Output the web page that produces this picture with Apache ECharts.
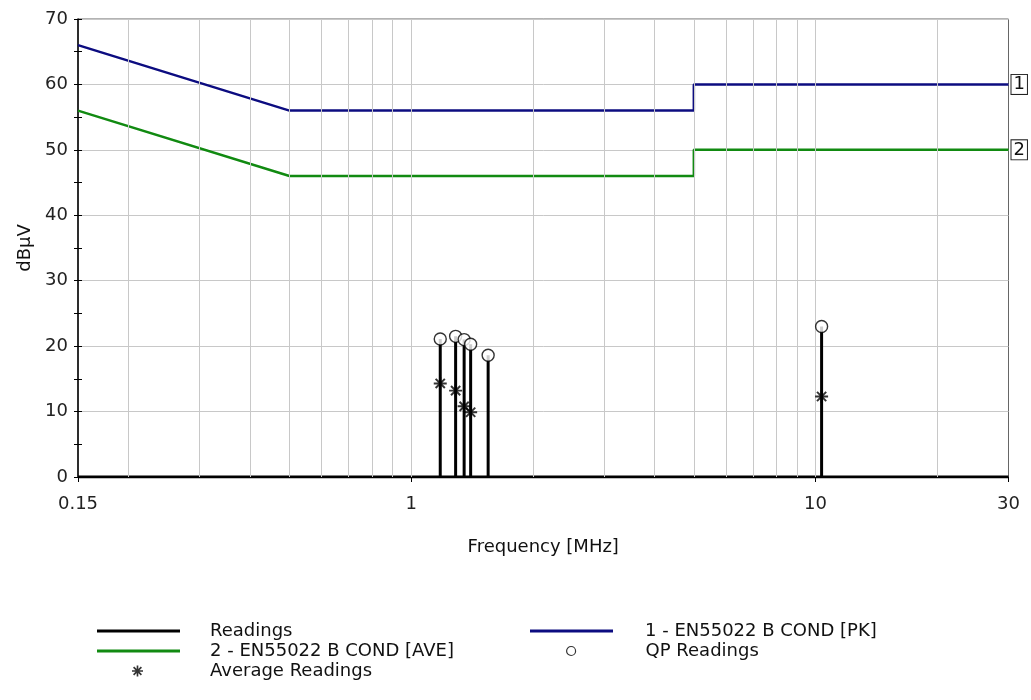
<!DOCTYPE html>
<html>
<head>
<meta charset="utf-8">
<script src="https://cdn.jsdelivr.net/npm/echarts@6/dist/echarts.min.js"></script>
<style>
html,body{margin:0;padding:0;background:#fff;}
#chart{width:1031px;height:700px;}
</style>
</head>
<body>
<div id="chart"></div>
<script>
// ---- data ----
const freqTickLabels = [0.15, 1, 10, 30];
const gridFreqs = [0.2,0.3,0.4,0.5,0.6,0.7,0.8,0.9,1,2,3,4,5,6,7,8,9,10,20];
const limitFreq = [0.15, 0.5, 5, 5, 30];
const pkLimit  = [66, 56, 56, 60, 60];
const aveLimit = [56, 46, 46, 50, 50];
const readingFreq = [1.18, 1.288, 1.352, 1.403, 1.55, 10.35];
const qpValues    = [21.1, 21.5, 21.0, 20.3, 18.6, 23.0];
const avgValues   = [14.3, 13.2, 10.8, 9.9, null, 12.3];
const names = {
  readings: 'Readings',
  pk: '1 - EN55022 B COND [PK]',
  ave: '2 - EN55022 B COND [AVE]',
  qp: 'QP Readings',
  avg: 'Average Readings'
};

// ---- build ----
const FONT = 'DejaVu Sans';
const readingsData = [[0.15, 0]];
readingFreq.forEach((f, i) => { readingsData.push([f, 0], [f, qpValues[i]], [f, 0]); });
readingsData.push([30, 0]);
const pkData = limitFreq.map((f, i) => [f, pkLimit[i]]);
const aveData = limitFreq.map((f, i) => [f, aveLimit[i]]);
const qpData = readingFreq.map((f, i) => [f, qpValues[i]]);
const avgData = readingFreq.map((f, i) => [f, avgValues[i]]).filter(d => d[1] != null);

const asterisk = 'path://M-6,-0.9 L6,-0.9 L6,0.9 L-6,0.9 Z M-0.9,-6 L0.9,-6 L0.9,6 L-0.9,6 Z M-4.9,-3.6 L-3.6,-4.9 L4.9,3.6 L3.6,4.9 Z M3.6,-4.9 L4.9,-3.6 L-3.6,4.9 L-4.9,3.6 Z';

function legendItem(left, centerY, name, icon, w, h, padLeft, itemStyle) {
  const d = { name: name, icon: icon };
  if (itemStyle) d.itemStyle = itemStyle;
  return {
    left: left, top: centerY - 10, orient: 'vertical', padding: 0,
    itemWidth: w, itemHeight: h, selectedMode: false,
    textStyle: { fontFamily: FONT, fontSize: 18, color: '#111', padding: [0, 0, 0, padLeft] },
    data: [d]
  };
}

const chart = echarts.init(document.getElementById('chart'), null, { renderer: 'canvas' });
const option = {
  animation: false,
  backgroundColor: '#fff',
  textStyle: { fontFamily: FONT },
  grid: { left: 78, right: 22.5, top: 19, height: 458, show: true, borderColor: '#666', borderWidth: 1, backgroundColor: '#fff', containLabel: false },
  legend: [
    legendItem(97, 632, names.readings, 'rect', 83, 3, 25),
    legendItem(97, 652, names.ave, 'rect', 83, 3, 25),
    legendItem(132, 672, names.avg, asterisk, 11, 11, 62),
    legendItem(530, 632, names.pk, 'rect', 83, 3, 27),
    legendItem(566, 652, names.qp, 'circle', 9, 9, 65, { color: '#fff', borderColor: '#000', borderWidth: 1.2 })
  ],
  xAxis: [{
    type: 'log', logBase: 10, min: 0.15, max: 30,
    name: 'Frequency [MHz]', nameLocation: 'middle', nameGap: 61,
    nameTextStyle: { fontFamily: FONT, fontSize: 18, color: '#111' },
    axisLine: { show: true, lineStyle: { color: '#000', width: 1 } },
    axisTick: { show: true, length: 5, customValues: freqTickLabels, lineStyle: { color: '#000' } },
    axisLabel: { show: true, customValues: freqTickLabels, margin: 18, fontFamily: FONT, fontSize: 18, color: '#222',
      formatter: v => String(Math.round(v * 100) / 100) },
    splitLine: { show: false }, minorTick: { show: false }
  }],
  yAxis: [{
    type: 'value', min: 0, max: 70, interval: 10, position: 'left',
    name: 'dBµV', nameLocation: 'middle', nameGap: 40, nameRotate: 90,
    nameTextStyle: { fontFamily: FONT, fontSize: 18, color: '#111' },
    axisLine: { show: true, lineStyle: { color: '#000', width: 1.5 } },
    axisTick: { show: true, length: 4, lineStyle: { color: '#000' } },
    minorTick: { show: true, splitNumber: 2, length: 4, lineStyle: { color: '#000' } },
    axisLabel: { margin: 10, fontFamily: FONT, fontSize: 18, color: '#222' },
    splitLine: { show: true, lineStyle: { color: '#c8c8c8', width: 1 } }
  }, {
    type: 'value', min: 0, max: 70, interval: 10, position: 'left', offset: 0,
    axisLine: { show: false },
    axisTick: { show: true, inside: true, length: 4, lineStyle: { color: '#000' } },
    minorTick: { show: true, splitNumber: 2, length: 4, lineStyle: { color: '#000' } },
    axisLabel: { show: false }, splitLine: { show: false }
  }],
  series: [
    {
      type: 'line', name: '_grid', data: [[0.15, 0]], showSymbol: false, silent: true,
      lineStyle: { width: 0 }, z: 1,
      markLine: {
        silent: true, symbol: ['none', 'none'], label: { show: false },
        lineStyle: { color: '#c8c8c8', width: 1, type: 'solid' },
        emphasis: { disabled: true },
        data: gridFreqs.map(f => ({ xAxis: f }))
      }
    },
    {
      type: 'line', name: names.readings, data: readingsData, showSymbol: false, z: 3,
      lineStyle: { color: '#000', width: 3 }, itemStyle: { color: '#000' }
    },
    {
      type: 'line', name: names.pk, data: pkData, showSymbol: false, z: 4,
      lineStyle: { color: '#0c0c80', width: 2.5 }, itemStyle: { color: '#0c0c80' },
      endLabel: { show: true, formatter: '1', distance: 3, fontFamily: FONT, fontSize: 18, color: '#111',
        backgroundColor: '#fff', borderColor: '#222', borderWidth: 1, padding: [1, 2, 0, 2] }
    },
    {
      type: 'line', name: names.ave, data: aveData, showSymbol: false, z: 4,
      lineStyle: { color: '#118a11', width: 2.5 }, itemStyle: { color: '#118a11' },
      endLabel: { show: true, formatter: '2', distance: 3, fontFamily: FONT, fontSize: 18, color: '#111',
        backgroundColor: '#fff', borderColor: '#222', borderWidth: 1, padding: [1, 2, 0, 2] }
    },
    {
      type: 'scatter', name: names.qp, data: qpData, symbol: 'circle', symbolSize: 12, z: 5,
      itemStyle: { color: '#fff', borderColor: '#000', borderWidth: 1.4 }
    },
    {
      type: 'scatter', name: names.avg, data: avgData, symbol: asterisk, symbolSize: 13, z: 5,
      itemStyle: { color: '#000' }
    }
  ]
};
chart.setOption(option);
</script>
</body>
</html>
